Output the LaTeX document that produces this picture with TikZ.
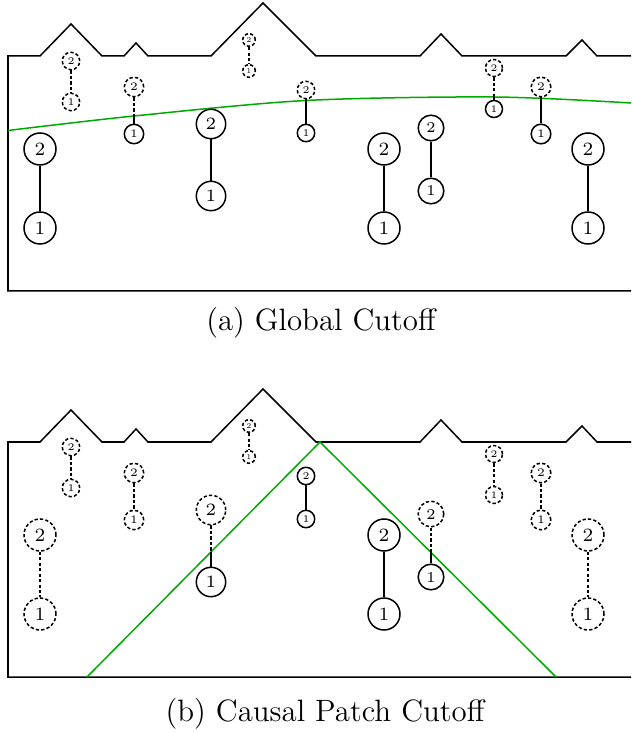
\documentclass[tikz,border=0pt]{standalone}
\usepackage{fontspec}
\definecolor{cutgreen}{RGB}{0,170,0}
\tikzset{
    ptl/.style = {circle, draw, inner sep=0pt, minimum size=0.732pt*#1,
        font={\pgfmathsetmacro\ptlfs{0.43*#1}\fontsize{\ptlfs pt}{\ptlfs pt}\selectfont}},
    ghost/.style = {dash pattern=on 1.2pt off 0.8pt},
    cutoff/.style = {draw=cutgreen, line width=0.55pt},
    caption/.style = {font=\fontsize{11.3}{13.5}\selectfont},
}

\begin{document}
\begin{tikzpicture}[x=0.366pt, y=-0.366pt, line width=0.55pt]
\useasboundingbox (0,0) rectangle (631,733);

% (a) global cutoff
\draw (631,291) -- (8,291) -- (8,56) -- (40,56) -- (71,24) -- (102,56) -- (124,56) -- (136,43) -- (148,56)
    -- (211,56) -- (263,3) -- (316,56) -- (420,56) -- (441,34) -- (462,56) -- (566,56) -- (582,40) -- (597,56) -- (631,56);
\draw[cutoff] plot[smooth] coordinates {(8,130.5) (134,116) (306,100.5) (494,97) (631,103)};
\foreach \n/\x/\ya/\yb/\r/\sa/\sb in {1/40/149/228/16/solid/solid, 2/71/61/102/8.7/ghost/ghost,
    3/134/87/134/9.7/ghost/solid, 4/211/124/196/14.7/solid/solid, 5/249/40/71/6.3/ghost/ghost,
    6/306/90/133/8.7/ghost/solid, 7/384/149/228/16/solid/solid, 8/431/128/191/12.8/solid/solid,
    9/494/68/109/8.5/ghost/solid, 10/541/87/134/9.8/ghost/solid, 11/588/149/228/16/solid/solid} {
    \node[ptl=\r, \sa] (a2-\n) at (\x,\ya) {2};
    \node[ptl=\r, \sb] (a1-\n) at (\x,\yb) {1};
}
\foreach \n in {1,4,7,8,11} \draw (a2-\n) -- (a1-\n);
\foreach \n in {2,5} \draw[ghost] (a2-\n) -- (a1-\n);
\foreach \n/\c in {3/116,6/101,9/97,10/97} {
    \coordinate (ac-\n) at (a2-\n |- 0,\c);
    \draw[ghost] (a2-\n) -- (ac-\n);
    \draw (ac-\n) -- (a1-\n);
}
\node[caption] (capa) at (321,323) {(a) Global Cutoff};

% (b) causal patch cutoff
\begin{scope}[shift={(0,386)}]
\draw (631,291) -- (8,291) -- (8,56) -- (40,56) -- (71,24) -- (102,56) -- (124,56) -- (136,43) -- (148,56)
    -- (211,56) -- (263,3) -- (316,56) -- (420,56) -- (441,34) -- (462,56) -- (566,56) -- (582,40) -- (597,56) -- (631,56);
\coordinate (apex) at (320,56);
\draw[cutoff] (87,291) -- (apex) -- (556,291);
\foreach \n/\x/\ya/\yb/\r/\sa/\sb in {1/40/149/228/16/ghost/ghost, 2/71/61/102/8.7/ghost/ghost,
    3/134/87/134/9.7/ghost/ghost, 4/211/124/196/14.7/ghost/solid, 5/249/40/71/6.3/ghost/ghost,
    6/306/90/133/8.7/solid/solid, 7/384/149/228/16/solid/solid, 8/431/128/191/12.8/ghost/solid,
    9/494/68/109/8.5/ghost/ghost, 10/541/87/134/9.8/ghost/ghost, 11/588/149/228/16/ghost/ghost} {
    \node[ptl=\r, \sa] (b2-\n) at (\x,\ya) {2};
    \node[ptl=\r, \sb] (b1-\n) at (\x,\yb) {1};
}
\foreach \n in {6,7} \draw (b2-\n) -- (b1-\n);
\foreach \n in {1,2,3,5,9,10,11} \draw[ghost] (b2-\n) -- (b1-\n);
\foreach \n/\c in {4/165.5,8/165.6} {
    \coordinate (bc-\n) at (b2-\n |- 0,\c);
    \draw[ghost] (b2-\n) -- (bc-\n);
    \draw (bc-\n) -- (b1-\n);
}
\node[caption] (capb) at (325,328) {(b) Causal Patch Cutoff};
\end{scope}
\end{tikzpicture}
\end{document}
